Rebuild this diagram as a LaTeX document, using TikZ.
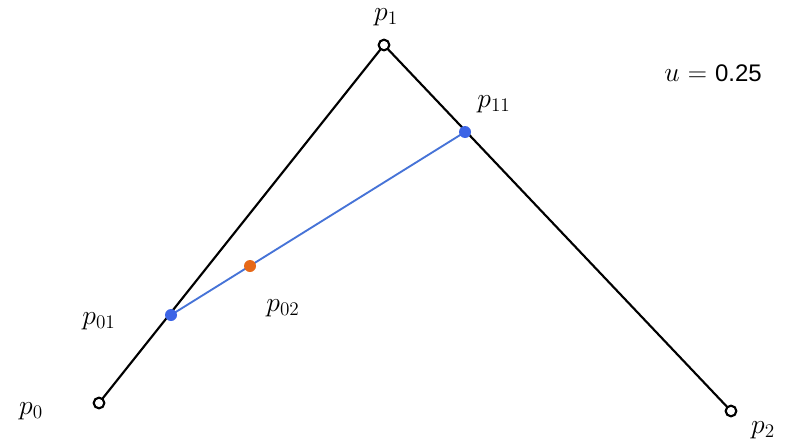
\documentclass[tikz,border=0pt]{standalone}
\usepackage{fontspec}
\newfontfamily\numfont{Liberation Sans}
\definecolor{lineblue}{RGB}{70,115,215}
\definecolor{dotblue}{RGB}{60,100,230}
\definecolor{dotorange}{RGB}{230,105,25}
\tikzset{
  ctrl/.style={circle,draw=black,line width=1.6pt,fill=white,minimum size=8pt,inner sep=0pt},
  bdot/.style={circle,fill=dotblue,minimum size=9pt,inner sep=0pt},
  odot/.style={circle,fill=dotorange,minimum size=9pt,inner sep=0pt},
  lbl/.style={font=\fontsize{20}{24}\selectfont,inner sep=0pt}
}
\begin{document}
\begin{tikzpicture}[x=0.75pt,y=-0.75pt]
\useasboundingbox (0,0) rectangle (803,446);
\coordinate (c0) at (99,403);
\coordinate (c1) at (384,45);
\coordinate (c2) at (731,411);
\coordinate (c01) at (171,315);
\coordinate (c11) at (465,132);
\coordinate (c02) at (250,266);
\draw[line width=1.6pt,black] (c0) -- (c1) -- (c2);
\draw[line width=1.4pt,lineblue] (c01) -- (c11);
\node[ctrl] (p0) at (c0) {};
\node[ctrl] (p1) at (c1) {};
\node[ctrl] (p2) at (c2) {};
\node[bdot] (p01) at (c01) {};
\node[bdot] (p11) at (c11) {};
\node[odot] (p02) at (c02) {};
\node[lbl] (l0) at (31,411) {$p_0$};
\node[lbl] (l1) at (386,17) {$p_1$};
\node[lbl] (l2) at (763,430) {$p_2$};
\node[lbl] (l01) at (99,321) {$p_{01}$};
\node[lbl] (l11) at (494,104) {$p_{11}$};
\node[lbl] (l02) at (283,308) {$p_{02}$};
\node[lbl] (u) at (713,73) {$u$ = {\numfont\fontsize{18}{22}\selectfont 0.25}};
\end{tikzpicture}
\end{document}
